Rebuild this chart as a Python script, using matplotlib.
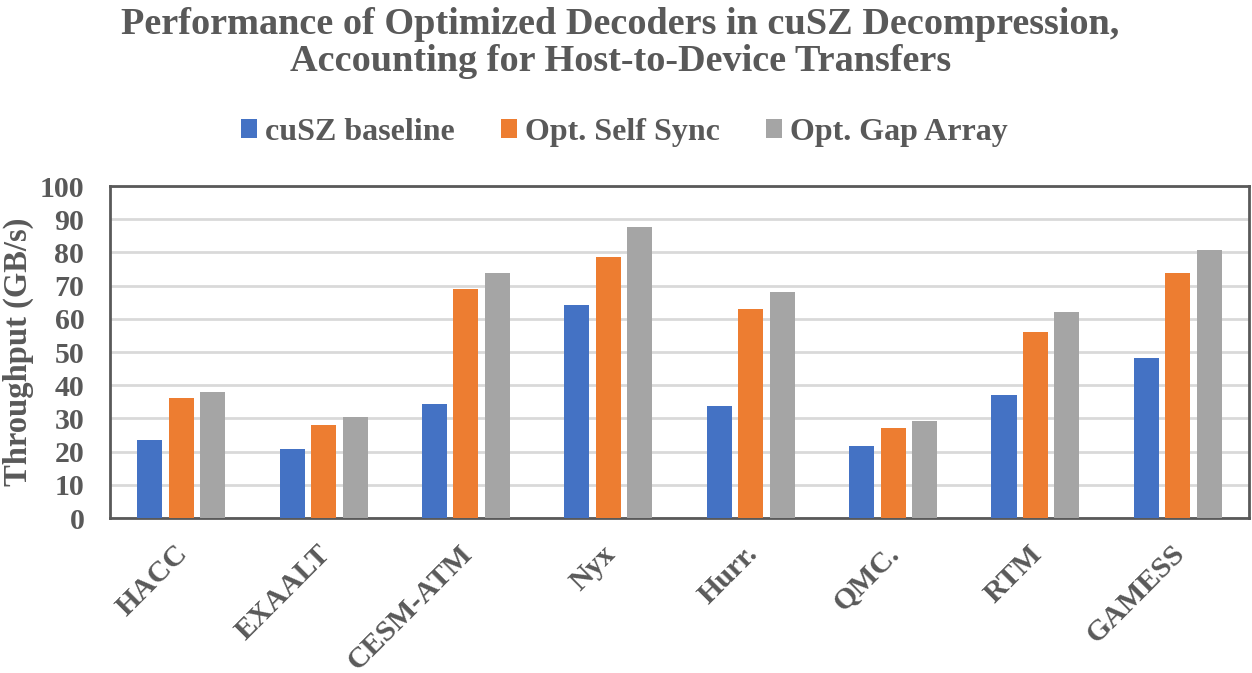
import numpy as np
import matplotlib
matplotlib.use('Agg')
import matplotlib.pyplot as plt
import matplotlib.transforms as mtransforms

plt.rcParams['font.family'] = ['Liberation Serif', 'DejaVu Serif']
plt.rcParams['font.weight'] = 'bold'

datasets = ['HACC', 'EXAALT', 'CESM-ATM', 'Nyx', 'Hurr.', 'QMC.', 'RTM', 'GAMESS']
series_names = ['cuSZ baseline', 'Opt. Self Sync', 'Opt. Gap Array']
cusz_baseline = [23.6, 20.9, 34.2, 64.3, 33.6, 21.8, 37.2, 48.3]
opt_self_sync = [36.0, 28.1, 69.1, 78.5, 63.1, 27.2, 55.9, 73.7]
opt_gap_array = [38.1, 30.3, 73.7, 87.8, 68.2, 29.3, 62.2, 80.6]
yticks = list(range(0, 101, 10))

colors = ['#4472C4', '#ED7D31', '#A5A5A5']
text_color = '#595959'

fig = plt.figure(figsize=(12.52, 6.73), dpi=100)
ax = fig.add_axes([0.0879, 0.2303, 0.9097, 0.4933])

x = np.arange(len(datasets))
width = 0.176
step = 0.221
for i, (vals, name) in enumerate(zip([cusz_baseline, opt_self_sync, opt_gap_array], series_names)):
    ax.bar(x + (i - 1) * step, vals, width, color=colors[i], label=name, zorder=3)

ax.set_xlim(-0.5, len(datasets) - 0.5)
ax.set_ylim(0, 100)
ax.set_yticks(yticks)
ax.set_yticklabels([str(t) for t in yticks], fontsize=21.5, color=text_color)
ax.set_xticks(x)
ax.set_xticklabels(datasets, fontsize=21.5, color=text_color, rotation=45,
                   ha='right', rotation_mode='anchor')
ax.tick_params(axis='both', length=0)
ax.tick_params(axis='y', pad=18.5)
ax.tick_params(axis='x', pad=16)
# nudge rotated labels a bit to the left
shift = mtransforms.ScaledTranslation(-7 / 100, 0, fig.dpi_scale_trans)
for lbl in ax.get_xticklabels():
    lbl.set_transform(lbl.get_transform() + shift)
ax.grid(axis='y', color='#D9D9D9', linewidth=2, zorder=0)
for s in ax.spines.values():
    s.set_color(text_color)
    s.set_linewidth(2)

ax.set_ylabel('Throughput (GB/s)', fontsize=23.5, fontweight='bold',
              color=text_color, labelpad=4)

fig.text(0.4956, 0.936, 'Performance of Optimized Decoders in cuSZ Decompression,\nAccounting for Host-to-Device Transfers',
         ha='center', va='center', fontsize=27.5, color=text_color, linespacing=1.08)

fig.legend(loc='center', bbox_to_anchor=(0.4988, 0.803), ncol=3, frameon=False,
           fontsize=23, labelcolor=text_color, handlelength=0.5, handleheight=0.55,
           handletextpad=0.25, columnspacing=1.45)

fig.savefig('out.png', dpi=100)
